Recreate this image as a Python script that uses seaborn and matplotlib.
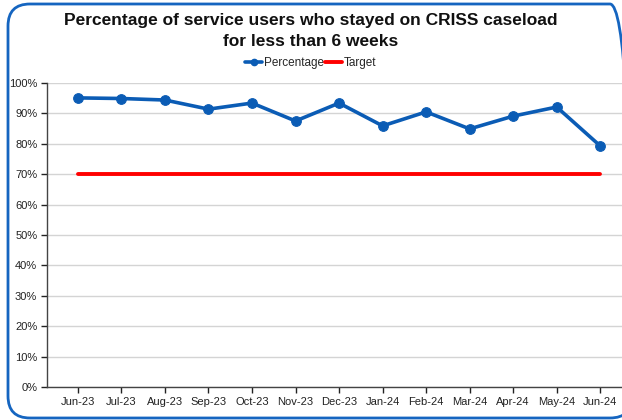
import matplotlib
matplotlib.use("Agg")
import matplotlib.pyplot as plt
from matplotlib.patches import FancyBboxPatch
from matplotlib.transforms import IdentityTransform
from matplotlib.ticker import PercentFormatter
from matplotlib.lines import Line2D
import pandas as pd
import seaborn as sns

months = ["Jun-23", "Jul-23", "Aug-23", "Sep-23", "Oct-23", "Nov-23", "Dec-23",
          "Jan-24", "Feb-24", "Mar-24", "Apr-24", "May-24", "Jun-24"]
percentage = [95.1, 94.9, 94.4, 91.4, 93.4, 87.5, 93.4, 85.9, 90.5, 84.9, 89.1, 92.1, 79.3]
target = [70] * len(months)

BLUE = "#0B5CB5"
RED = "#FF0000"

sns.set_theme(style="white")
plt.rcParams["font.family"] = ["Liberation Sans", "DejaVu Sans"]

df = pd.DataFrame({"month": months, "pos": range(len(months)),
                   "Percentage": percentage, "Target": target})

fig = plt.figure(figsize=(6.22, 4.2), dpi=100)
ax = fig.add_axes([47 / 622, 1 - 387 / 420, 1 - 47 / 622, (387 - 83) / 420])

# rounded blue frame, drawn in pixels; its right side runs off the image
frame = FancyBboxPatch((8, 2), 624, 414,
                       boxstyle="round,pad=0,rounding_size=22",
                       transform=IdentityTransform(), fill=False,
                       edgecolor="#1565C0", linewidth=2, clip_on=False)
fig.patches.append(frame)

ax.yaxis.grid(True, color="#D4D4D4", linewidth=1)
ax.set_axisbelow(True)

sns.lineplot(data=df, x="pos", y="Target", ax=ax, color=RED, linewidth=2.8)
sns.lineplot(data=df, x="pos", y="Percentage", ax=ax, color=BLUE, linewidth=2.6,
             marker="o", markersize=7, markeredgecolor=BLUE)

ax.set_xlim(-0.71, 12.5)
ax.set_ylim(0, 100)
ax.set_yticks(range(0, 101, 10))
ax.yaxis.set_major_formatter(PercentFormatter(decimals=0))
ax.set_xticks(df["pos"])
ax.set_xticklabels(months)
ax.set_xlabel("")
ax.set_ylabel("")
ax.tick_params(axis="both", labelsize=8, colors="#222222", length=4, width=1,
               direction="out", bottom=True, left=True, pad=3)
for side in ["top", "right"]:
    ax.spines[side].set_visible(False)
for side in ["left", "bottom"]:
    ax.spines[side].set_color("#444444")
    ax.spines[side].set_linewidth(1)

fig.text(0.5, 1 - 20 / 420, "Percentage of service users who stayed on CRISS caseload",
         ha="center", va="center", fontsize=12.5, fontweight="bold", color="#111111")
fig.text(0.5, 1 - 42 / 420, "for less than 6 weeks",
         ha="center", va="center", fontsize=12.5, fontweight="bold", color="#111111")

handles = [Line2D([], [], color=BLUE, linewidth=2.6, marker="o", markersize=4.5),
           Line2D([], [], color=RED, linewidth=2.8)]
fig.legend(handles, ["Percentage", "Target"], loc="center",
           bbox_to_anchor=(0.5, 1 - 63 / 420), ncol=2, frameon=False,
           fontsize=8.5, handlelength=1.4, handletextpad=0.2, columnspacing=0.1)

fig.savefig("out.png", dpi=100)
